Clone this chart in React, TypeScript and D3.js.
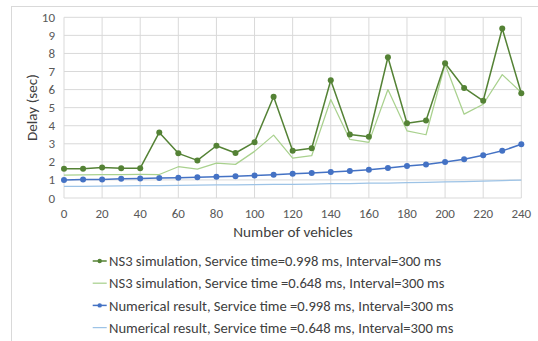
import React from "react";
import * as d3 from "d3";

const vehicles = [0, 10, 20, 30, 40, 50, 60, 70, 80, 90, 100, 110, 120, 130, 140, 150, 160, 170, 180, 190, 200, 210, 220, 230, 240];
const ns3Slow = [1.62, 1.62, 1.69, 1.65, 1.65, 3.63, 2.47, 2.08, 2.89, 2.49, 3.09, 5.6, 2.61, 2.75, 6.52, 3.52, 3.39, 7.79, 4.14, 4.29, 7.46, 6.09, 5.38, 9.38, 5.8];
const ns3Fast = [1.27, 1.28, 1.29, 1.3, 1.31, 1.3, 1.73, 1.6, 1.93, 1.86, 2.58, 3.48, 2.21, 2.34, 5.45, 3.24, 3.08, 6.0, 3.72, 3.5, 7.4, 4.64, 5.19, 6.83, 5.84];
const numSlow = [1.0, 1.02, 1.03, 1.06, 1.08, 1.1, 1.12, 1.15, 1.17, 1.2, 1.25, 1.29, 1.34, 1.38, 1.44, 1.49, 1.56, 1.66, 1.77, 1.86, 1.99, 2.14, 2.36, 2.61, 2.97];
const numFast = [0.64, 0.65, 0.66, 0.67, 0.68, 0.69, 0.7, 0.71, 0.72, 0.73, 0.74, 0.75, 0.76, 0.77, 0.79, 0.8, 0.82, 0.83, 0.85, 0.87, 0.89, 0.91, 0.93, 0.96, 0.99];
const xTicks = [0, 20, 40, 60, 80, 100, 120, 140, 160, 180, 200, 220, 240];
const yTicks = [0, 1, 2, 3, 4, 5, 6, 7, 8, 9, 10];
const seriesNames = [
  "NS3 simulation, Service time=0.998 ms, Interval=300 ms",
  "NS3 simulation, Service time =0.648 ms, Interval=300 ms",
  "Numerical result, Service time =0.998 ms, Interval=300 ms",
  "Numerical result, Service time =0.648 ms, Interval=300 ms",
];

const series = [
  { name: seriesNames[0], values: ns3Slow, color: "#548235", width: 1.5, marker: 3 },
  { name: seriesNames[1], values: ns3Fast, color: "#a9d18e", width: 1.25, marker: 0 },
  { name: seriesNames[2], values: numSlow, color: "#4472c4", width: 1.5, marker: 3 },
  { name: seriesNames[3], values: numFast, color: "#9dc3e6", width: 1.25, marker: 0 },
];

export default function App() {
  const W = 538, H = 341;
  const x = d3.scaleLinear().domain([0, 240]).range([64, 521.3]);
  const y = d3.scaleLinear().domain([0, 10]).range([198, 17.3]);
  const font = "Calibri, Carlito, 'Open Sans', sans-serif";
  const line = (vals: number[]) =>
    d3.line<number>().x((_, i) => x(vehicles[i])).y((v) => y(v))(vals) || "";
  const drawOrder = [3, 2, 1, 0];
  return (
    <svg width={W} height={H} style={{ position: "absolute", left: 0, top: 0, background: "#fff" }} fontFamily={font}>
      <rect x={0} y={0} width={W} height={H} fill="#fff" />
      <rect x={11.5} y={6.5} width={W} height={H} fill="none" stroke="#d9d9d9" strokeWidth={1} />
      {yTicks.map((t) => (
        <line key={"gy" + t} x1={x(0)} x2={x(240)} y1={y(t)} y2={y(t)} stroke="#d9d9d9" strokeWidth={1} />
      ))}
      {xTicks.map((t) => (
        <line key={"gx" + t} x1={x(t)} x2={x(t)} y1={y(0)} y2={y(10)} stroke="#d9d9d9" strokeWidth={1} />
      ))}
      {yTicks.map((t) => (
        <text key={"ty" + t} x={55} y={y(t)} dy="0.35em" textAnchor="end" fontSize={13} fill="#595959">
          {t}
        </text>
      ))}
      {xTicks.map((t) => (
        <text key={"tx" + t} x={x(t)} y={213.5} dy="0.35em" textAnchor="middle" fontSize={13} fill="#595959">
          {t}
        </text>
      ))}
      <text x={293} y={232} dy="0.35em" textAnchor="middle" fontSize={15.2} fill="#404040">
        Number of vehicles
      </text>
      <text transform={`translate(31.5,${(y(0) + y(10)) / 2}) rotate(-90)`} dy="0.35em" textAnchor="middle" fontSize={15.2} fill="#404040">
        Delay (sec)
      </text>
      {drawOrder.map((si) => {
        const s = series[si];
        return (
          <g key={"s" + si}>
            <path d={line(s.values)} fill="none" stroke={s.color} strokeWidth={s.width} strokeLinejoin="round" />
            {s.marker > 0 &&
              s.values.map((v, i) => (
                <circle key={i} cx={x(vehicles[i])} cy={y(v)} r={s.marker} fill={s.color} />
              ))}
          </g>
        );
      })}
      {series.map((s, i) => {
        const cy = 261 + i * 22.2;
        return (
          <g key={"lg" + i}>
            <line x1={92.7} x2={106.7} y1={cy} y2={cy} stroke={s.color} strokeWidth={s.width} />
            {s.marker > 0 && <circle cx={99.7} cy={cy} r={2.2} fill={s.color} />}
            <text x={109} y={cy} dy="0.35em" fontSize={14.6} fill="#404040">
              {s.name}
            </text>
          </g>
        );
      })}
    </svg>
  );
}
